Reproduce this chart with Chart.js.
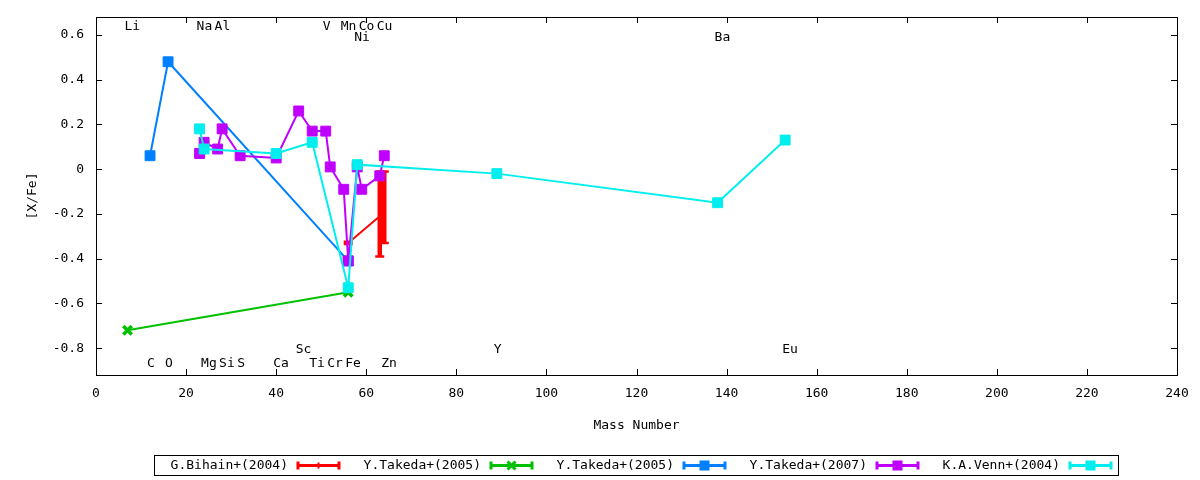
<!DOCTYPE html>
<html>
<head>
<meta charset="utf-8">
<title>[X/Fe] vs Mass Number</title>
<script src="https://cdn.jsdelivr.net/npm/chart.js@4/dist/chart.umd.min.js"></script>
<style>
  html, body { margin: 0; padding: 0; background: #fff; }
  #wrap { width: 1200px; height: 480px; }
</style>
</head>
<body>
<div id="wrap"><canvas id="myChart" width="1200" height="480"></canvas></div>
<script>
// G.Bihain+(2004) - with error bars
const bihainMass = [56, 63, 64];
const bihainVal = [-0.33, -0.21, -0.17];
const bihainLow = [-0.335, -0.39, -0.33];
const bihainHigh = [-0.325, -0.01, -0.01];

// Y.Takeda+(2005)
const takedaAMass = [7, 56];
const takedaAVal = [-0.72, -0.55];

// Y.Takeda+(2005), second set
const takedaBMass = [12, 16, 56];
const takedaBVal = [0.06, 0.48, -0.41];

// Y.Takeda+(2007)
const takeda07Mass = [23, 24, 27, 28, 32, 40, 45, 48, 51, 52, 55, 56, 58, 59, 63, 64];
const takeda07Val = [0.07, 0.12, 0.09, 0.18, 0.06, 0.05, 0.26, 0.17, 0.17, 0.01, -0.09, -0.41, 0.01, -0.09, -0.03, 0.06];

// K.A.Venn+(2004)
const vennMass = [23, 24, 40, 48, 56, 58, 89, 138, 153];
const vennVal = [0.18, 0.09, 0.07, 0.12, -0.53, 0.02, -0.02, -0.15, 0.13];

const xTicks = [0, 20, 40, 60, 80, 100, 120, 140, 160, 180, 200, 220, 240];
const yTicks = [-0.8, -0.6, -0.4, -0.2, 0, 0.2, 0.4, 0.6];

// element names written along top and bottom of the plot
const topNames = ['Li', 'Na', 'Al', 'V', 'Mn', 'Co', 'Cu'];
const topMass = [7, 23, 27, 51, 55, 59, 63];
const top2Names = ['Ni', 'Ba'];
const top2Mass = [58, 138];
const botNames = ['C', 'O', 'Mg', 'Si', 'S', 'Ca', 'Ti', 'Cr', 'Fe', 'Zn'];
const botMass = [12, 16, 24, 28, 32, 40, 48, 52, 56, 64];
const bot2Names = ['Sc', 'Y', 'Eu'];
const bot2Mass = [45, 89, 153];

const FONT = "'DejaVu Sans Mono', monospace";
const font13 = { family: FONT, size: 13 };

function pts(xs, ys) {
  return xs.map((x, i) => ({ x: x, y: ys[i] }));
}

const marks = ['tick', 'cross', 'square', 'square', 'square'];

// error bars for the Bihain set, drawn under the lines
const errorBars = {
  id: 'errorBars',
  beforeDatasetsDraw(chart) {
    const ctx = chart.ctx, xs = chart.scales.x, ys = chart.scales.y;
    const a = chart.chartArea;
    ctx.save();
    ctx.beginPath();
    ctx.rect(a.left, a.top, a.right - a.left, a.bottom - a.top);
    ctx.clip();
    ctx.strokeStyle = '#ff0000';
    bihainMass.forEach((m, i) => {
      const px = xs.getPixelForValue(m);
      const lo = ys.getPixelForValue(bihainLow[i]);
      const hi = ys.getPixelForValue(bihainHigh[i]);
      ctx.lineWidth = 4.5;
      ctx.beginPath();
      ctx.moveTo(px, lo); ctx.lineTo(px, hi);
      ctx.stroke();
      ctx.lineWidth = 2.5;
      ctx.beginPath();
      ctx.moveTo(px - 4.5, lo); ctx.lineTo(px + 4.5, lo);
      ctx.moveTo(px - 4.5, hi); ctx.lineTo(px + 4.5, hi);
      ctx.stroke();
    });
    ctx.restore();
  }
};

// frame, inward ticks, element labels and gnuplot style key
const decor = {
  id: 'decor',
  afterDraw(chart) {
    const ctx = chart.ctx, xs = chart.scales.x, ys = chart.scales.y;
    const a = chart.chartArea;
    ctx.save();
    ctx.strokeStyle = '#000';
    ctx.lineWidth = 1;
    ctx.strokeRect(Math.round(a.left) + 0.5, Math.round(a.top) + 0.5,
      Math.round(a.right - a.left), Math.round(a.bottom - a.top));
    ctx.beginPath();
    xTicks.forEach(v => {
      const p = Math.round(xs.getPixelForValue(v)) + 0.5;
      ctx.moveTo(p, a.bottom); ctx.lineTo(p, a.bottom - 6);
      ctx.moveTo(p, a.top); ctx.lineTo(p, a.top + 6);
    });
    yTicks.forEach(v => {
      const p = Math.round(ys.getPixelForValue(v)) + 0.5;
      ctx.moveTo(a.left, p); ctx.lineTo(a.left + 6, p);
      ctx.moveTo(a.right, p); ctx.lineTo(a.right - 6, p);
    });
    ctx.stroke();

    ctx.fillStyle = '#000';
    ctx.font = '13px ' + FONT;
    ctx.textBaseline = 'middle';
    ctx.textAlign = 'left';
    const row = (names, masses, yv) => names.forEach((n, i) => {
      ctx.fillText(n, xs.getPixelForValue(masses[i]) - 3, ys.getPixelForValue(yv));
    });
    row(topNames, topMass, 0.635);
    row(top2Names, top2Mass, 0.586);
    row(botNames, botMass, -0.87);
    row(bot2Names, bot2Mass, -0.806);

    // key
    ctx.strokeRect(154.5, 455.5, 964, 20);
    const yk = 465.5;
    chart.data.datasets.forEach((ds, i) => {
      const end = 288 + i * 193;
      ctx.fillStyle = '#000';
      ctx.textAlign = 'right';
      ctx.fillText(ds.label, end, yk);
      const x0 = end + 9, x1 = end + 52, xm = (x0 + x1) / 2;
      ctx.strokeStyle = ds.borderColor;
      ctx.fillStyle = ds.borderColor;
      ctx.lineWidth = 3;
      ctx.beginPath();
      ctx.moveTo(x0, yk); ctx.lineTo(x1, yk);
      ctx.moveTo(x0 + 1, yk - 4); ctx.lineTo(x0 + 1, yk + 4);
      ctx.moveTo(x1 - 1, yk - 4); ctx.lineTo(x1 - 1, yk + 4);
      ctx.stroke();
      if (marks[i] === 'square') {
        ctx.fillRect(xm - 5, yk - 5, 10, 10);
      } else if (marks[i] === 'cross') {
        ctx.beginPath();
        ctx.moveTo(xm - 4, yk - 4); ctx.lineTo(xm + 4, yk + 4);
        ctx.moveTo(xm - 4, yk + 4); ctx.lineTo(xm + 4, yk - 4);
        ctx.stroke();
      } else {
        ctx.lineWidth = 2;
        ctx.beginPath();
        ctx.moveTo(xm, yk - 3); ctx.lineTo(xm, yk + 3);
        ctx.stroke();
      }
    });
    ctx.restore();
  }
};

const ctx = document.getElementById('myChart').getContext('2d');
const myChart = new Chart(ctx, {
  type: 'line',
  data: {
    datasets: [
      {
        label: 'G.Bihain+(2004)',
        data: pts(bihainMass, bihainVal),
        borderColor: '#ff0000',
        backgroundColor: '#ff0000',
        borderWidth: 2,
        pointRadius: 0,
        order: 5
      },
      {
        label: 'Y.Takeda+(2005)',
        data: pts(takedaAMass, takedaAVal),
        borderColor: '#00c000',
        backgroundColor: '#00c000',
        borderWidth: 2,
        pointStyle: 'crossRot',
        pointRadius: 6,
        pointBorderWidth: 3.5,
        order: 4
      },
      {
        label: 'Y.Takeda+(2005)',
        data: pts(takedaBMass, takedaBVal),
        borderColor: '#0080ff',
        backgroundColor: '#0080ff',
        borderWidth: 2,
        pointStyle: 'rect',
        pointRadius: 7,
        pointBorderWidth: 1,
        order: 3
      },
      {
        label: 'Y.Takeda+(2007)',
        data: pts(takeda07Mass, takeda07Val),
        borderColor: '#c000ff',
        backgroundColor: '#c000ff',
        borderWidth: 2,
        pointStyle: 'rect',
        pointRadius: 7,
        pointBorderWidth: 1,
        order: 2
      },
      {
        label: 'K.A.Venn+(2004)',
        data: pts(vennMass, vennVal),
        borderColor: '#00eeee',
        backgroundColor: '#00eeee',
        borderWidth: 2,
        pointStyle: 'rect',
        pointRadius: 7,
        pointBorderWidth: 1,
        order: 1
      }
    ]
  },
  options: {
    responsive: false,
    animation: false,
    events: [],
    layout: { padding: { top: 17, right: 23, bottom: 45, left: 0 } },
    plugins: {
      legend: { display: false },
      tooltip: { enabled: false }
    },
    elements: { line: { tension: 0 } },
    scales: {
      x: {
        type: 'linear',
        min: 0,
        max: 240,
        grid: { display: false, drawTicks: false },
        border: { display: false },
        afterBuildTicks: s => { s.ticks = xTicks.map(v => ({ value: v })); },
        afterFit: s => { s.height = 60; s.paddingLeft = 0; s.paddingRight = 0; },
        ticks: { color: '#000', font: font13, padding: 11, maxRotation: 0, autoSkip: false },
        title: { display: true, text: 'Mass Number', color: '#000', font: font13, padding: { top: 0, bottom: 2 } }
      },
      y: {
        type: 'linear',
        min: -0.92,
        max: 0.68,
        grid: { display: false, drawTicks: false },
        border: { display: false },
        afterBuildTicks: s => { s.ticks = yTicks.map(v => ({ value: v })); },
        afterFit: s => { s.width = 96; s.paddingTop = 0; s.paddingBottom = 0; },
        ticks: {
          color: '#000', font: font13, padding: 12, autoSkip: false,
          callback: v => String(Math.round(v * 10) / 10)
        },
        title: { display: true, text: '[X/Fe]', color: '#000', font: font13, padding: { top: 25, bottom: 0 } }
      }
    }
  },
  plugins: [errorBars, decor]
});
</script>
</body>
</html>
